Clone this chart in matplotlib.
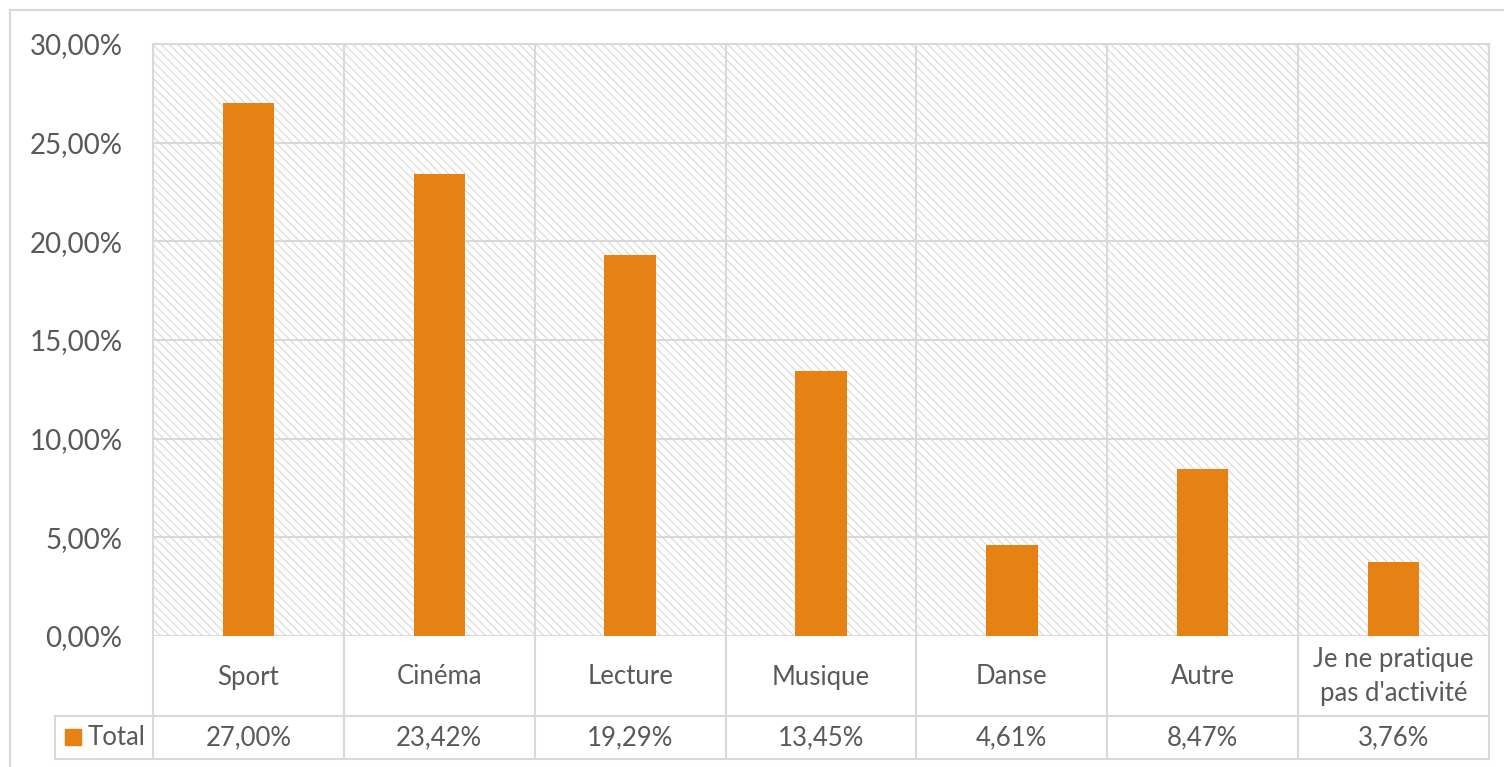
import matplotlib.pyplot as plt
import matplotlib.transforms as mtransforms
from matplotlib.patches import Rectangle
from matplotlib.lines import Line2D

categories = ["Sport", "Cinéma", "Lecture", "Musique", "Danse", "Autre",
              "Je ne pratique\npas d'activité"]
values = [27.00, 23.42, 19.29, 13.45, 4.61, 8.47, 3.76]
value_labels = ["27,00%", "23,42%", "19,29%", "13,45%", "4,61%", "8,47%", "3,76%"]
yticks = [0, 5, 10, 15, 20, 25, 30]
ytick_labels = ["0,00%", "5,00%", "10,00%", "15,00%", "20,00%", "25,00%", "30,00%"]
series_name = "Total"

W, H = 1504, 767
ORANGE = "#e58213"
GRID = "#d9d9d9"
HATCH = "#dcdcdc"
TXT = "#595959"

plt.rcParams["font.family"] = ["Lato", "DejaVu Sans"]
plt.rcParams["hatch.color"] = HATCH
plt.rcParams["hatch.linewidth"] = 0.9

fig = plt.figure(figsize=(W / 100, H / 100), dpi=100)


def fx(px):
    return px / W


def fy(py):
    return 1 - py / H


left, right, top, bottom = 153, 1489, 44, 636
ax = fig.add_axes([fx(left), fy(bottom), fx(right) - fx(left), fy(top) - fy(bottom)])
ax.set_xlim(-0.5, len(categories) - 0.5)
ax.set_ylim(0, 30)

# hatched plot-area background
ax.add_patch(Rectangle((0, 0), 1, 1, transform=ax.transAxes, facecolor="white",
                       edgecolor=HATCH, linewidth=0, hatch="\\\\\\\\", zorder=0.5))

for y in yticks:
    ax.axhline(y, color=GRID, lw=1.5, zorder=1)

ax.bar(range(len(categories)), values, width=0.27, color=ORANGE, zorder=3)

ax.set_yticks(yticks)
ax.set_yticklabels(ytick_labels, fontsize=20, color=TXT)
ax.tick_params(axis="y", length=0, pad=22)
ax.set_xticks([])
for s in ax.spines.values():
    s.set_visible(False)
for side in ("top", "right"):
    ax.spines[side].set_visible(True)
    ax.spines[side].set_color(GRID)
    ax.spines[side].set_linewidth(1.5)

# table below the axis: x in data units, y in figure pixels
blend = mtransforms.blended_transform_factory(ax.transData, fig.transFigure)
row1_bot, row2_bot = 716, 759
n = len(categories)
for i in range(n + 1):
    ax.add_line(Line2D([i - 0.5, i - 0.5], [fy(top), fy(row2_bot)], transform=blend,
                       color=GRID, lw=1.5, clip_on=False, zorder=2))
for i, (cat, lab) in enumerate(zip(categories, value_labels)):
    ax.text(i, fy((bottom + row1_bot) / 2 + 1), cat, transform=blend, ha="center",
            va="center", fontsize=18.5, color=TXT, linespacing=1.45)
    ax.text(i, fy((row1_bot + row2_bot) / 2), lab, transform=blend, ha="center",
            va="center", fontsize=18.5, color=TXT)

fig.add_artist(Line2D([fx(55), fx(right)], [fy(row1_bot)] * 2, color=GRID, lw=1.5))
fig.add_artist(Line2D([fx(55), fx(right)], [fy(row2_bot)] * 2, color=GRID, lw=1.5))
fig.add_artist(Line2D([fx(55)] * 2, [fy(row1_bot), fy(row2_bot)], color=GRID, lw=1.5))
fig.add_artist(Rectangle((fx(65), fy(745)), fx(16), 16 / H, color=ORANGE))
fig.text(fx(88), fy((row1_bot + row2_bot) / 2), series_name, ha="left", va="center",
         fontsize=18.5, color=TXT)

# outer chart border
fig.add_artist(Line2D([fx(10), 1], [fy(10)] * 2, color=GRID, lw=1.5))
fig.add_artist(Line2D([fx(10)] * 2, [fy(10), 0], color=GRID, lw=1.5))

fig.savefig("out.png", dpi=100)
